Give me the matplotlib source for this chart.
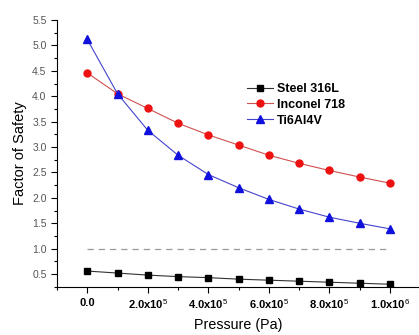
import numpy as np
import matplotlib
matplotlib.use("Agg")
import matplotlib.pyplot as plt
from matplotlib.ticker import MultipleLocator, FixedLocator

plt.rcParams['font.family'] = ['Liberation Sans', 'DejaVu Sans']
plt.rcParams['mathtext.fontset'] = 'custom'
plt.rcParams['mathtext.rm'] = 'Liberation Sans'
plt.rcParams['mathtext.it'] = 'Liberation Sans'

# data
pressure = [0, 1e5, 2e5, 3e5, 4e5, 5e5, 6e5, 7e5, 8e5, 9e5, 1e6]
steel = [0.56, 0.52, 0.48, 0.45, 0.43, 0.40, 0.38, 0.36, 0.34, 0.32, 0.30]
inconel = [4.46, 4.05, 3.76, 3.47, 3.24, 3.04, 2.84, 2.68, 2.54, 2.41, 2.29]
ti = [5.12, 4.05, 3.33, 2.84, 2.46, 2.20, 1.97, 1.78, 1.62, 1.50, 1.39]
xtick_vals = [0, 2e5, 4e5, 6e5, 8e5, 1e6]
xtick_labels = ["0.0", r"2.0x10$^{5}$", r"4.0x10$^{5}$", r"6.0x10$^{5}$",
                r"8.0x10$^{5}$", r"1.0x10$^{6}$"]
safety_line = 1.0

fig = plt.figure(figsize=(4.19, 3.35), dpi=100)
ax = fig.add_axes([0.136, 0.143, 0.864, 0.797])

ax.plot([pressure[0], pressure[-1]], [safety_line, safety_line], ls=(0, (5, 4)),
        color='#999999', lw=0.9)
ax.plot(pressure, steel, color='#333333', lw=0.8, marker='s', ms=4.2,
        mfc='black', mec='black', label='Steel 316L')
ax.plot(pressure, inconel, color='#d05050', lw=0.8, marker='o', ms=5,
        mfc='#ee1111', mec='#ee1111', label='Inconel 718')
ax.plot(pressure, ti, color='#4444cc', lw=0.8, marker='^', ms=5.5,
        mfc='#1111dd', mec='#1111dd', label='Ti6Al4V')

ax.set_xlim(-1e5, 1.096e6)
ax.set_ylim(0.244, 5.5)
ax.yaxis.set_major_locator(MultipleLocator(0.5))
ax.yaxis.set_minor_locator(MultipleLocator(0.25))
ax.xaxis.set_major_locator(FixedLocator(xtick_vals))
ax.xaxis.set_minor_locator(FixedLocator([-1e5, 1e5, 3e5, 5e5, 7e5, 9e5]))
ax.set_xticklabels(xtick_labels, fontsize=8, fontweight='bold')
for lbl in ax.get_yticklabels():
    lbl.set_fontsize(7.5)
    lbl.set_color('#555555')

ax.tick_params(which='major', direction='out', length=4, width=0.8)
ax.tick_params(which='minor', direction='out', length=2.5, width=0.8)
ax.spines['top'].set_visible(False)
ax.spines['right'].set_visible(False)

ax.set_ylabel('Factor of Safety', fontsize=10.5, labelpad=4)
ax.set_xlabel('Pressure (Pa)', fontsize=10.3, labelpad=5)

leg = fig.legend(loc='center left', bbox_to_anchor=(0.589, 0.687),
                 bbox_transform=fig.transFigure, frameon=False,
                 fontsize=9, handlelength=2.1, labelspacing=0.3,
                 handletextpad=0.3, borderpad=0, borderaxespad=0)
for t in leg.get_texts():
    t.set_fontweight('bold')

fig.savefig('out.png', dpi=100)
